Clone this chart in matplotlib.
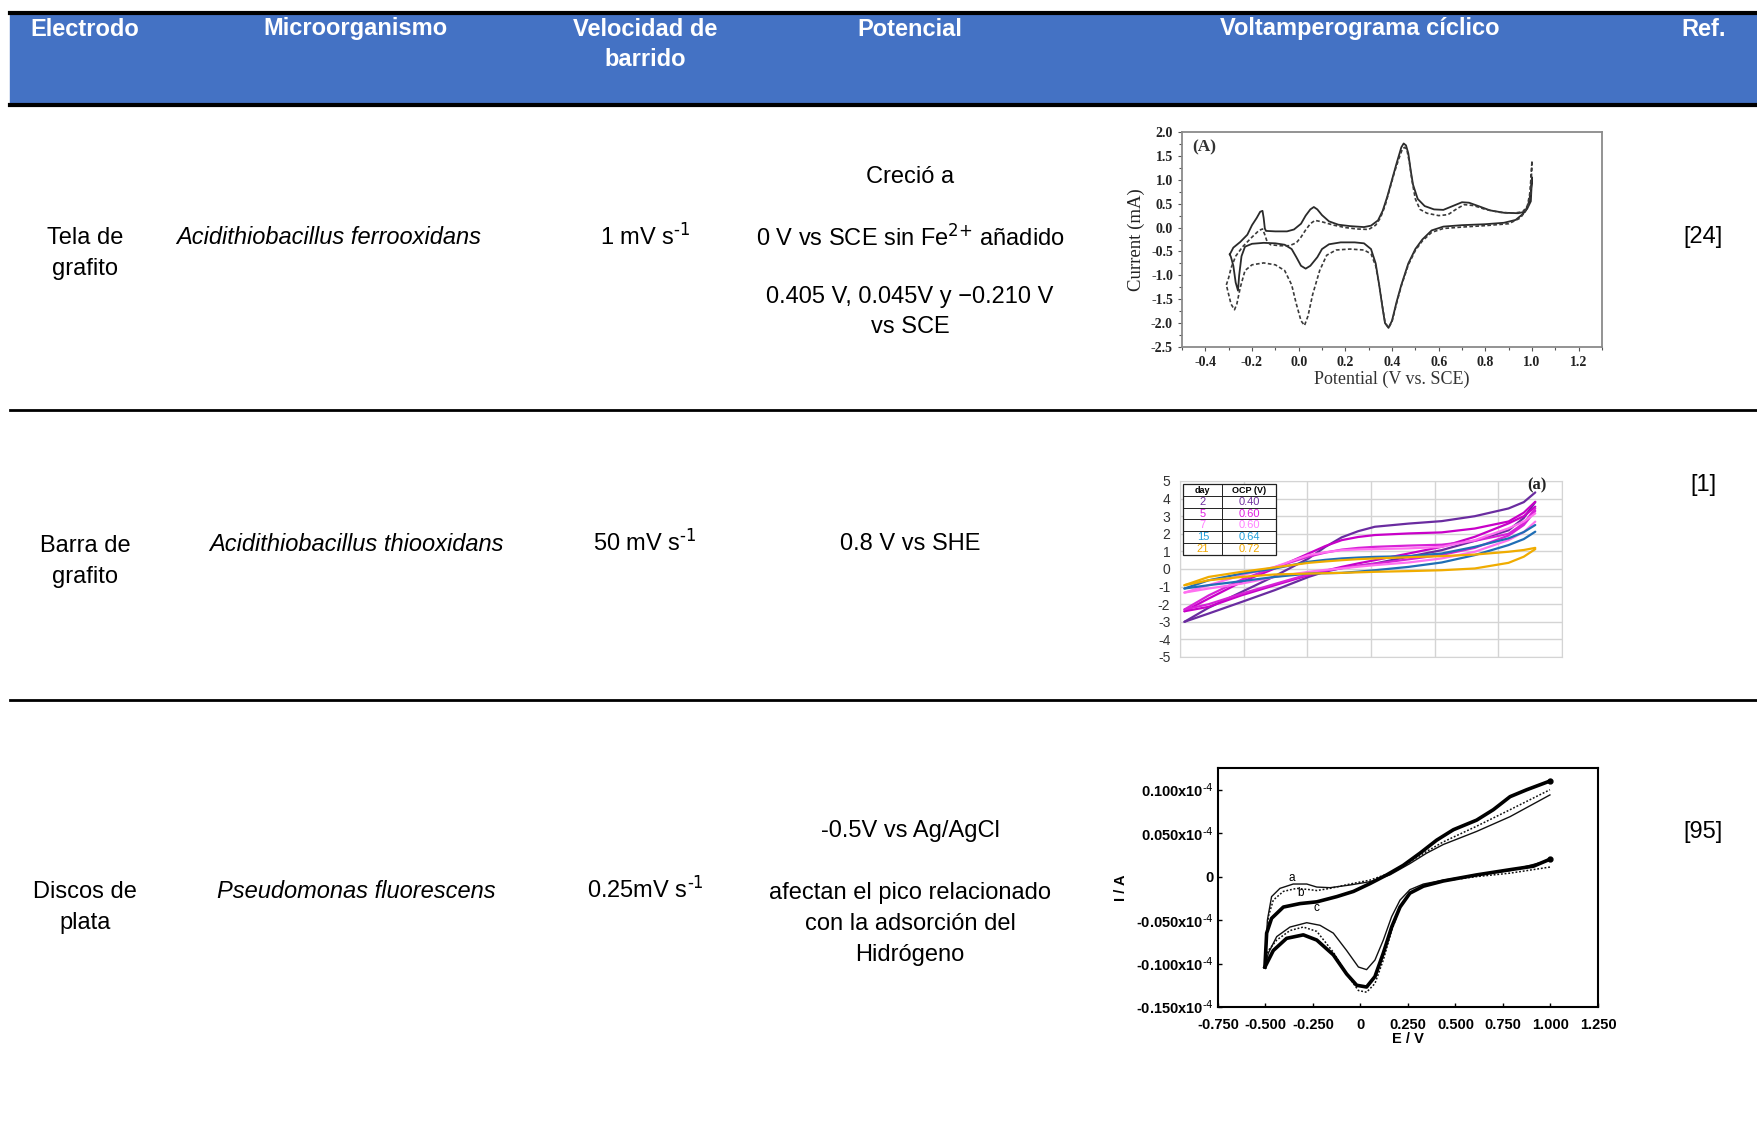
import matplotlib
matplotlib.use("Agg")
import matplotlib.pyplot as plt
from matplotlib.patches import Rectangle
from matplotlib.lines import Line2D
from matplotlib.ticker import FixedLocator, FixedFormatter, MultipleLocator

W, H = 1758, 1133  # canvas size in pixels

plt.rcParams['font.family'] = ['Liberation Sans', 'DejaVu Sans']
plt.rcParams['mathtext.default'] = 'regular'
plt.rcParams['axes.unicode_minus'] = False

# ---- table content ----
headers = ["Electrodo", "Microorganismo", "Velocidad de\nbarrido", "Potencial",
           "Voltamperograma cíclico", "Ref."]
electrodos = [["Tela de", "grafito"], ["Barra de", "grafito"], ["Discos de", "plata"]]
microorganismos = ["Acidithiobacillus ferrooxidans", "Acidithiobacillus thiooxidans",
                   "Pseudomonas fluorescens"]
velocidades = ["1 mV s$^{\\text{-1}}$", "50 mV s$^{\\text{-1}}$", "0.25mV s$^{\\text{-1}}$"]
potenciales = [
    ["Creció a", "", "0 V vs SCE sin Fe$^{\\text{2+}}$ añadido", "",
     "0.405 V, 0.045V y \u22120.210 V", "vs SCE"],
    ["0.8 V vs SHE"],
    ["-0.5V vs Ag/AgCl", "", "afectan el pico relacionado", "con la adsorción del",
     "Hidrógeno"],
]
referencias = ["[24]", "[1]", "[95]"]

# ---- CV (A): A. ferrooxidans on graphite cloth, current in mA ----
ferro_E_solid = [-0.295, -0.28, -0.25, -0.22, -0.2, -0.18, -0.165, -0.155, -0.15, -0.145,
                 -0.14, -0.1, -0.05, -0.02, 0.01, 0.03, 0.05, 0.065, 0.08, 0.1, 0.13, 0.17,
                 0.22, 0.28, 0.31, 0.34, 0.36, 0.38, 0.4, 0.42, 0.44, 0.45, 0.46, 0.47, 0.48,
                 0.49, 0.51, 0.54, 0.58, 0.62, 0.66, 0.7, 0.73, 0.77, 0.82, 0.88, 0.94, 0.97,
                 0.985, 0.995, 1.0,
                 0.995, 0.98, 0.96, 0.93, 0.88, 0.8, 0.7, 0.62, 0.57, 0.53, 0.5, 0.47, 0.44,
                 0.42, 0.4, 0.385, 0.37, 0.36, 0.345, 0.33, 0.31, 0.28, 0.24, 0.18, 0.13, 0.1,
                 0.08, 0.05, 0.03, 0.01, -0.01, -0.03, -0.06, -0.1, -0.15, -0.2, -0.23,
                 -0.245, -0.255, -0.26, -0.27, -0.28, -0.29, -0.295]
ferro_I_solid = [-0.56, -0.42, -0.3, -0.15, 0.05, 0.2, 0.33, 0.35, 0.2, -0.02,
                 -0.07, -0.08, -0.08, -0.04, 0.08, 0.25, 0.38, 0.43, 0.38, 0.26, 0.13, 0.06,
                 0.03, 0.01, 0.04, 0.15, 0.35, 0.65, 1.0, 1.35, 1.68, 1.76, 1.72, 1.55, 1.2,
                 0.9, 0.6, 0.45, 0.38, 0.37, 0.45, 0.53, 0.52, 0.45, 0.36, 0.31, 0.3, 0.33,
                 0.5, 0.75, 1.05,
                 0.55, 0.4, 0.28, 0.16, 0.1, 0.07, 0.05, 0.02, -0.06, -0.25, -0.45, -0.75,
                 -1.2, -1.55, -1.95, -2.1, -2.0, -1.7, -1.2, -0.75, -0.45, -0.33, -0.31,
                 -0.31, -0.35, -0.45, -0.62, -0.8, -0.86, -0.8, -0.62, -0.45, -0.36, -0.33,
                 -0.32, -0.34, -0.4, -0.6, -1.0, -1.32, -1.15, -0.8, -0.62, -0.56]
ferro_E_dash = [-0.31, -0.3, -0.29, -0.27, -0.24, -0.2, -0.17, -0.155, -0.145, -0.135,
                -0.12, -0.08, -0.04, -0.01, 0.01, 0.03, 0.05, 0.07, 0.1, 0.15, 0.2, 0.25,
                0.3, 0.33, 0.35, 0.37, 0.39, 0.41, 0.43, 0.445, 0.455, 0.465, 0.475, 0.485,
                0.5, 0.52, 0.55, 0.6, 0.64, 0.68, 0.71, 0.75, 0.8, 0.86, 0.92, 0.96, 0.98,
                0.99, 0.995, 1.0,
                0.995, 0.98, 0.95, 0.9, 0.8, 0.7, 0.62, 0.57, 0.53, 0.5, 0.47, 0.44, 0.42,
                0.4, 0.385, 0.37, 0.36, 0.345, 0.33, 0.31, 0.28, 0.22, 0.16, 0.12, 0.09,
                0.06, 0.04, 0.025, 0.01, -0.01, -0.03, -0.06, -0.1, -0.15, -0.2, -0.23,
                -0.25, -0.265, -0.275, -0.29, -0.3, -0.31]
ferro_I_dash = [-1.2, -1.05, -0.85, -0.6, -0.4, -0.2, -0.06, -0.03, -0.15, -0.3,
                -0.36, -0.38, -0.38, -0.32, -0.2, -0.05, 0.08, 0.15, 0.12, 0.05, 0.0, -0.03,
                -0.04, 0.05, 0.2, 0.45, 0.8, 1.15, 1.45, 1.65, 1.68, 1.6, 1.35, 1.0,
                0.6, 0.38, 0.3, 0.25, 0.27, 0.4, 0.48, 0.46, 0.38, 0.32, 0.3, 0.33, 0.45,
                0.7, 1.0, 1.4,
                0.7, 0.4, 0.2, 0.08, 0.04, 0.01, -0.02, -0.1, -0.28, -0.48, -0.78, -1.22,
                -1.58, -1.97, -2.1, -1.98, -1.68, -1.2, -0.8, -0.55, -0.47, -0.45, -0.47,
                -0.58, -0.9, -1.4, -1.85, -2.05, -1.95, -1.6, -1.2, -0.9, -0.78, -0.74,
                -0.78, -0.9, -1.25, -1.6, -1.72, -1.6, -1.4, -1.2]

# ---- CV (a): A. thiooxidans on graphite rod ----
thio_days = ["2", "5", "7", "15", "21"]
thio_ocp = ["0.40", "0.60", "0.60", "0.64", "0.72"]
thio_E = [0.07, 0.45, 0.97, 1.49, 2.02, 2.28, 2.54, 2.8, 3.06, 3.59, 4.11, 4.63, 5.16,
          5.4, 5.58]
# lower and upper branches, one loop per recorded cycle
thio_I_low = [
    [-3.0, -2.53, -1.87, -1.2, -0.45, -0.15, 0.05, 0.18, 0.31, 0.7, 1.07, 1.6, 2.2, 2.9, 3.8],
    [-2.4, -2.15, -1.49, -0.92, -0.35, -0.1, 0.12, 0.32, 0.5, 0.88, 1.26, 1.83, 2.59, 3.0,
     3.54],
    [-2.3, -2.0, -1.4, -0.85, -0.3, -0.1, 0.05, 0.18, 0.3, 0.55, 0.8, 1.2, 1.9, 2.5, 3.3],
    [-1.34, -1.11, -0.83, -0.45, -0.16, -0.05, 0.03, 0.13, 0.22, 0.37, 0.6, 0.98, 1.64, 2.1,
     2.69],
    [-1.11, -0.92, -0.69, -0.45, -0.26, -0.24, -0.22, -0.15, -0.07, 0.12, 0.37, 0.79, 1.36,
     1.7, 2.12],
    [-0.92, -0.64, -0.45, -0.31, -0.26, -0.24, -0.22, -0.19, -0.16, -0.12, -0.07, 0.03, 0.35,
     0.7, 1.13],
]
thio_I_up = [
    [-3.0, -2.2, -1.3, -0.4, 0.6, 1.25, 1.8, 2.15, 2.4, 2.58, 2.72, 3.0, 3.44, 3.8, 4.35],
    [-2.4, -1.68, -0.73, 0.03, 0.88, 1.3, 1.64, 1.82, 1.93, 2.02, 2.08, 2.3, 2.7, 3.2, 3.82],
    [-2.3, -1.5, -0.6, 0.1, 0.7, 0.93, 1.1, 1.2, 1.26, 1.33, 1.38, 1.6, 2.0, 2.6, 3.44],
    [-1.34, -0.92, -0.35, 0.12, 0.79, 0.95, 1.07, 1.11, 1.13, 1.17, 1.26, 1.64, 2.31, 2.7,
     3.16],
    [-1.11, -0.64, -0.26, 0.03, 0.41, 0.52, 0.6, 0.65, 0.69, 0.73, 0.88, 1.26, 1.74, 2.1, 2.5],
    [-0.92, -0.45, -0.16, 0.09, 0.35, 0.43, 0.5, 0.56, 0.6, 0.67, 0.73, 0.82, 0.98, 1.08, 1.2],
]
thio_loop_colors = ['#6A2CA0', '#C800C8', '#D722D7', '#FF70F0', '#1F6EB5', '#F0AC00']
thio_text_colors = ['#7030A0', '#E020E0', '#FF80FF', '#22A0DC', '#F0A800']

# ---- CV: P. fluorescens on silver discs, current in 1e-4 A (curves a, b, c) ----
fluo_E_a_fwd = [-0.503, -0.49, -0.468, -0.424, -0.354, -0.283, -0.23, -0.16, -0.055, 0.05,
                0.155, 0.26, 0.348, 0.436, 0.611, 0.787, 0.997]
fluo_I_a_fwd = [-0.104, -0.05, -0.023, -0.0135, -0.0085, -0.0085, -0.012, -0.0127, -0.0096,
                -0.0058, 0.002, 0.015, 0.027, 0.037, 0.052, 0.069, 0.094]
fluo_E_a_rev = [0.997, 0.787, 0.611, 0.436, 0.331, 0.26, 0.208, 0.164, 0.12, 0.076, 0.032,
                -0.011, -0.073, -0.143, -0.213, -0.283, -0.371, -0.441, -0.485, -0.503]
fluo_I_a_rev = [0.019, 0.007, 0.002, -0.004, -0.0085, -0.015, -0.027, -0.046, -0.073, -0.096,
                -0.107, -0.104, -0.085, -0.065, -0.056, -0.053, -0.058, -0.069, -0.088, -0.104]
fluo_E_b_fwd = [-0.503, -0.485, -0.459, -0.406, -0.336, -0.266, -0.23, -0.16, -0.055, 0.05,
                0.155, 0.26, 0.348, 0.436, 0.611, 0.787, 0.997]
fluo_I_b_fwd = [-0.1, -0.046, -0.027, -0.017, -0.0135, -0.015, -0.016, -0.0135, -0.0085,
                -0.004, 0.004, 0.017, 0.029, 0.04, 0.058, 0.077, 0.1]
fluo_E_b_rev = [0.997, 0.787, 0.611, 0.436, 0.331, 0.26, 0.208, 0.164, 0.12, 0.076, 0.032,
                -0.011, -0.073, -0.143, -0.23, -0.301, -0.371, -0.441, -0.485, -0.503]
fluo_I_b_rev = [0.011, 0.004, 0.0, -0.005, -0.011, -0.019, -0.035, -0.062, -0.096, -0.123,
                -0.133, -0.131, -0.112, -0.087, -0.063, -0.058, -0.062, -0.073, -0.085, -0.096]
fluo_E_c_fwd = [-0.503, -0.494, -0.468, -0.406, -0.318, -0.23, -0.125, -0.037, 0.05, 0.138,
                0.225, 0.313, 0.401, 0.489, 0.611, 0.699, 0.787, 0.875, 0.997]
fluo_I_c_fwd = [-0.104, -0.065, -0.048, -0.035, -0.031, -0.029, -0.023, -0.017, -0.008, 0.002,
                0.013, 0.027, 0.042, 0.054, 0.065, 0.077, 0.092, 0.1, 0.11]
fluo_E_c_rev = [0.997, 0.91, 0.787, 0.611, 0.436, 0.331, 0.26, 0.208, 0.164, 0.12, 0.076,
                0.032, -0.02, -0.073, -0.143, -0.23, -0.301, -0.389, -0.459, -0.503]
fluo_I_c_rev = [0.02, 0.012, 0.008, 0.002, -0.005, -0.011, -0.019, -0.035, -0.058, -0.088,
                -0.115, -0.127, -0.125, -0.112, -0.09, -0.073, -0.067, -0.071, -0.085, -0.104]


def fx(px):
    return px / W


def fy(py):
    return 1 - py / H


def box(x0, y0, x1, y1):
    return [fx(x0), fy(y1), (x1 - x0) / W, (y1 - y0) / H]


fig = plt.figure(figsize=(W / 100, H / 100), dpi=100)

# header band and rules
fig.patches.append(Rectangle((fx(10), fy(105)), 1 - fx(10), (105 - 13) / H,
                             transform=fig.transFigure, color='#4472C4', zorder=0))
for yy, lw in [(13, 3), (105, 3), (410, 2), (700, 2)]:
    fig.lines.append(Line2D([fx(10), 1], [fy(yy), fy(yy)], transform=fig.transFigure,
                            color='black', lw=lw))

col_x = [85, 355, 645, 910, 1360, 1704]
FS = 17
for x, h in zip(col_x, headers):
    for k, line in enumerate(h.split("\n")):
        fig.text(fx(x), fy(29 + 30 * k), line, ha='center', va='center', color='white',
                 fontsize=FS, fontweight='bold')


def lines_at(x, y_center, lines, step=30, **kw):
    y0 = y_center - step * (len(lines) - 1) / 2
    for k, line in enumerate(lines):
        if line:
            fig.text(fx(x), fy(y0 + step * k), line, ha='center', va='center',
                     fontsize=FS, **kw)


elec_mid = [253, 561, 908]
single_y = [238, 544, 891]
micro_x = [329, 356, 356]
pot_mid = [252, 544, 893]
ref_y = [237, 485, 832]
for i in range(3):
    lines_at(85, elec_mid[i], electrodos[i], step=31)
    lines_at(micro_x[i], single_y[i], [microorganismos[i]], style='italic')
    lines_at(645, single_y[i] - 2, [velocidades[i]])
    lines_at(910, pot_mid[i], potenciales[i], step=30 if i == 0 else 30.8)
    lines_at(1703, ref_y[i], [referencias[i]])

# ---- chart 1 ----
serif = ['Liberation Serif', 'DejaVu Serif']
ax1 = fig.add_axes(box(1182, 132, 1602, 347))
ax1.plot(ferro_E_solid, ferro_I_solid, color='#2a2a2a', lw=1.3)
ax1.plot(ferro_E_dash, ferro_I_dash, color='#3a3a3a', lw=1.2, ls=(0, (2.2, 1.4)))
ax1.set_xlim(-0.5, 1.3)
ax1.set_ylim(-2.5, 2.0)
xt1 = [-0.4, -0.2, 0.0, 0.2, 0.4, 0.6, 0.8, 1.0, 1.2]
ax1.xaxis.set_major_locator(FixedLocator(xt1))
ax1.xaxis.set_major_formatter(FixedFormatter(["%.1f" % v for v in xt1]))
yt1 = [-2.5, -2.0, -1.5, -1.0, -0.5, 0.0, 0.5, 1.0, 1.5, 2.0]
ax1.yaxis.set_major_locator(FixedLocator(yt1))
ax1.yaxis.set_major_formatter(FixedFormatter(["%.1f" % v for v in yt1]))
ax1.xaxis.set_minor_locator(MultipleLocator(0.1))
ax1.yaxis.set_minor_locator(MultipleLocator(0.25))
ax1.tick_params(which='both', direction='out', colors='#555', labelcolor='#222',
                labelsize=10, length=3, width=0.8)
ax1.tick_params(which='minor', length=2)
for lab in ax1.get_xticklabels() + ax1.get_yticklabels():
    lab.set_family(serif)
    lab.set_fontweight('bold')
for sp in ax1.spines.values():
    sp.set_color('#8a8a8a')
    sp.set_linewidth(1.3)
ax1.set_xlabel("Potential (V vs. SCE)", family=serif, fontsize=13, color='#333', labelpad=1)
ax1.set_ylabel("Current (mA)", family=serif, fontsize=13.5, color='#222', labelpad=4)
ax1.text(0.025, 0.93, "(A)", transform=ax1.transAxes, family=serif, fontsize=12.5,
         color='#333', va='center', fontweight='bold')

# ---- chart 2 ----
ax2 = fig.add_axes(box(1180, 481, 1562, 657))
for c, lo, up in zip(thio_loop_colors, thio_I_low, thio_I_up):
    ax2.plot(thio_E, lo, color=c, lw=1.6, solid_capstyle='round', solid_joinstyle='round')
    ax2.plot(thio_E, up, color=c, lw=1.6, solid_capstyle='round', solid_joinstyle='round')
ax2.set_xlim(0, 6)
ax2.set_ylim(-5, 5)
ax2.set_xticks(range(7))
ax2.set_xticklabels([])
ax2.set_yticks(range(-5, 6))
ax2.grid(True, color='#d4d4d4', lw=1.0)
ax2.set_axisbelow(True)
ax2.tick_params(length=0, pad=7, labelsize=10, labelcolor='#333')
for sp in ax2.spines.values():
    sp.set_color('#d4d4d4')
# day / OCP legend table
tx0, tx1, txm = 0.0085, 0.251, 0.111
ty_top, ty_bot = 0.981, 0.582
rh = (ty_top - ty_bot) / 6
ax2.add_patch(Rectangle((tx0, ty_bot), tx1 - tx0, ty_top - ty_bot, transform=ax2.transAxes,
                        facecolor='white', edgecolor='#222', lw=0.9, zorder=5))
for k in range(1, 6):
    ax2.plot([tx0, tx1], [ty_top - k * rh] * 2, transform=ax2.transAxes, color='#222',
             lw=0.7, zorder=6)
ax2.plot([txm, txm], [ty_bot, ty_top], transform=ax2.transAxes, color='#222', lw=0.7,
         zorder=6)
ax2.text((tx0 + txm) / 2, ty_top - rh / 2, "day", transform=ax2.transAxes, ha='center',
         va='center', fontsize=6.5, fontweight='bold', zorder=7)
ax2.text((txm + tx1) / 2, ty_top - rh / 2, "OCP (V)", transform=ax2.transAxes, ha='center',
         va='center', fontsize=6.5, fontweight='bold', zorder=7)
for k, (d, o, c) in enumerate(zip(thio_days, thio_ocp, thio_text_colors)):
    yy = ty_top - (k + 1.5) * rh
    ax2.text((tx0 + txm) / 2, yy, d, transform=ax2.transAxes, ha='center', va='center',
             fontsize=8, color=c, zorder=7)
    ax2.text((txm + tx1) / 2, yy, o, transform=ax2.transAxes, ha='center', va='center',
             fontsize=8, color=c, zorder=7)
ax2.text(0.935, 0.975, "(a)", transform=ax2.transAxes, ha='center', va='center',
         family=serif, fontsize=12, fontweight='bold', color='#222')

# ---- chart 3 ----
ax3 = fig.add_axes(box(1218, 768, 1598, 1007))
for E, I in [(fluo_E_a_fwd, fluo_I_a_fwd), (fluo_E_a_rev, fluo_I_a_rev)]:
    ax3.plot(E, I, color='#111', lw=1.0, solid_joinstyle='round')
for E, I in [(fluo_E_b_fwd, fluo_I_b_fwd), (fluo_E_b_rev, fluo_I_b_rev)]:
    ax3.plot(E, I, color='#111', lw=1.1, ls=(0, (1.2, 1.2)))
for E, I in [(fluo_E_c_fwd, fluo_I_c_fwd), (fluo_E_c_rev, fluo_I_c_rev)]:
    ax3.plot(E, I, color='#000', lw=2.6, solid_joinstyle='round')
ax3.plot([fluo_E_c_fwd[-1], fluo_E_c_rev[0]], [fluo_I_c_fwd[-1], fluo_I_c_rev[0]], 'o',
         color='#000', ms=3.5)
ax3.set_xlim(-0.75, 1.25)
ax3.set_ylim(-0.15, 0.125)
xt3 = [-0.75, -0.5, -0.25, 0, 0.25, 0.5, 0.75, 1.0, 1.25]
xl3 = ["-0.750", "-0.500", "-0.250", "0", "0.250", "0.500", "0.750", "1.000", "1.250"]
ax3.xaxis.set_major_locator(FixedLocator(xt3))
ax3.xaxis.set_major_formatter(FixedFormatter(xl3))
yt3 = [-0.15, -0.1, -0.05, 0, 0.05, 0.1]
yl3 = ["-0.150x10$^{\\text{-4}}$", "-0.100x10$^{\\text{-4}}$", "-0.050x10$^{\\text{-4}}$", "0",
       "0.050x10$^{\\text{-4}}$", "0.100x10$^{\\text{-4}}$"]
ax3.yaxis.set_major_locator(FixedLocator(yt3))
ax3.yaxis.set_major_formatter(FixedFormatter(yl3))
ax3.tick_params(direction='in', length=3, width=1, labelsize=10.5, pad=3)
ax3.tick_params(axis='x', pad=8)
for lab in ax3.get_xticklabels() + ax3.get_yticklabels():
    lab.set_fontweight('bold')
for sp in ax3.spines.values():
    sp.set_linewidth(1.5)
ax3.set_xlabel("E / V", fontsize=10.5, fontweight='bold', labelpad=0)
ax3.set_ylabel("I / A", fontsize=10.5, fontweight='bold', labelpad=6)
for lab, e, i in [("a", -0.362, -0.002), ("b", -0.318, -0.019), ("c", -0.234, -0.036)]:
    ax3.text(e, i, lab, fontsize=8.5, ha='center', va='center')

fig.savefig("out.png", dpi=100)
